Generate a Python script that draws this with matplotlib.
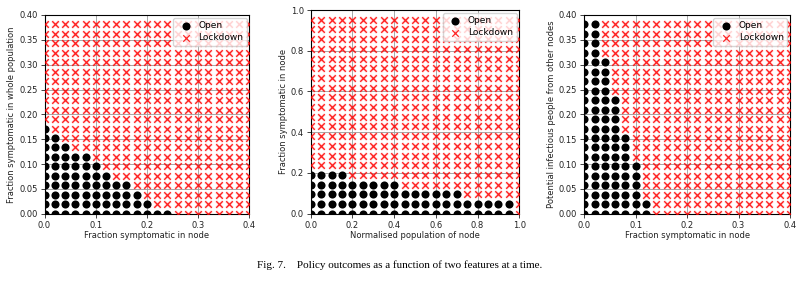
import numpy as np
import matplotlib
matplotlib.use("Agg")
import matplotlib.pyplot as plt

# grid of sampled feature values
x_sym = np.linspace(0.0, 0.4, 21)                    # fraction symptomatic in node
y_pop = np.linspace(0.0, 0.4, 21, endpoint=False)    # fraction symptomatic in whole population
x_norm = np.linspace(0.0, 1.0, 21)                   # normalised population of node
y_node = np.linspace(0.0, 1.0, 21, endpoint=False)   # fraction symptomatic in node
y_inf = np.linspace(0.0, 0.4, 21, endpoint=False)    # potential infectious people from other nodes

# index of the last "Open" column in each row (bottom row first), -1 = none
open_last_1 = [12, 10, 9, 8, 6, 5, 4, 2, 1, 0] + [-1] * 11
open_last_2 = [19, 19, 14, 8, 3] + [-1] * 16
open_last_3 = [6, 6, 5, 5, 5, 5, 4, 4, 4, 3, 3, 3, 3, 2, 2, 2, 2, 1, 1, 1, 1]

panels = [
    (x_sym, y_pop, open_last_1, "Fraction symptomatic in node",
     "Fraction symptomatic in whole population", np.arange(0, 0.41, 0.1),
     np.arange(0, 0.41, 0.05), "%.1f", "%.2f", (0, 0.4), (0, 0.4)),
    (x_norm, y_node, open_last_2, "Normalised population of node",
     "Fraction symptomatic in node", np.arange(0, 1.01, 0.2),
     np.arange(0, 1.01, 0.2), "%.1f", "%.1f", (0, 1.0), (0, 1.0)),
    (x_sym, y_inf, open_last_3, "Fraction symptomatic in node",
     "Potential infectious people from other nodes", np.arange(0, 0.41, 0.1),
     np.arange(0, 0.41, 0.05), "%.1f", "%.2f", (0, 0.4), (0, 0.4)),
]

# axes boxes in pixels: left, right, top, bottom (800 x 288 figure)
boxes = [(44.5, 249.5, 15, 213.7), (310.7, 519.3, 10, 213.7), (584.3, 790, 15, 213.7)]
W, H = 800, 288

fig = plt.figure(figsize=(8, 2.88), dpi=100)
fig.patch.set_facecolor("white")

for (xs, ys, last, xl, yl, xt, yt, xf, yf, xlim, ylim), (l, r, t, b) in zip(panels, boxes):
    ax = fig.add_axes([l / W, 1 - b / H, (r - l) / W, (b - t) / H])
    gx, gy = np.meshgrid(xs, ys)
    is_open = np.arange(len(xs))[None, :] <= np.array(last)[:, None]
    ax.grid(True, color="0.6", linewidth=0.6, zorder=0)
    ax.set_axisbelow(True)
    ax.scatter(gx[is_open], gy[is_open], s=34, c="black", marker="o",
               linewidths=0, label="Open", zorder=3)
    ax.scatter(gx[~is_open], gy[~is_open], s=24, c="red", marker="x",
               linewidths=1.8, alpha=0.2, zorder=2)
    ax.scatter(gx[~is_open], gy[~is_open], s=22, c="red", marker="x",
               linewidths=0.9, alpha=0.85, label="Lockdown", zorder=3)
    ax.set_xlim(*xlim)
    ax.set_ylim(*ylim)
    ax.set_xticks(xt)
    ax.set_yticks(yt)
    ax.set_xticklabels([xf % v for v in xt])
    ax.set_yticklabels([yf % v for v in yt])
    ax.tick_params(labelsize=6, length=3, width=0.6, pad=2, colors="#222222")
    ax.set_xlabel(xl, fontsize=6, labelpad=1, color="#222222")
    ax.set_ylabel(yl, fontsize=6, labelpad=2, color="#222222")
    for sp in ax.spines.values():
        sp.set_linewidth(0.8)
    ax.legend(loc="upper right", fontsize=6.5, framealpha=0.8, handletextpad=0.4,
              borderpad=0.4, labelspacing=0.3, borderaxespad=0.3, edgecolor="0.8")

fig.text(0.5, 1 - 265 / H, "Fig. 7.    Policy outcomes as a function of two features at a time.",
         ha="center", va="center", fontsize=8, family="Liberation Serif")

fig.savefig("out.png", dpi=100, facecolor="white")
